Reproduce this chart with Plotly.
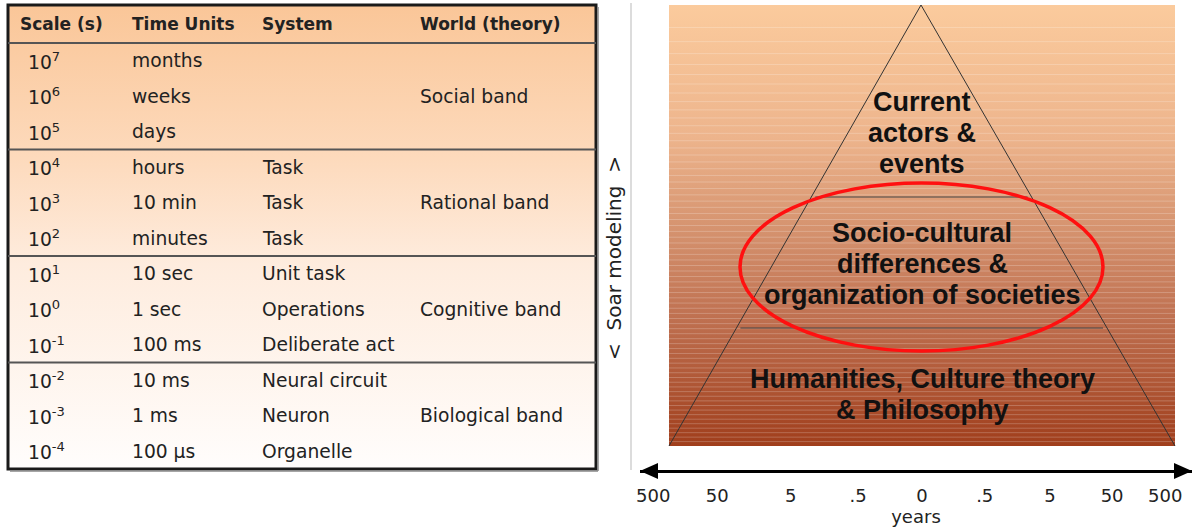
import plotly.graph_objects as go

W, H = 1192, 527

# ---- table data ----
headers = ["Scale (s)", "Time Units", "System", "World (theory)"]
scale_exp = [7, 6, 5, 4, 3, 2, 1, 0, -1, -2, -3, -4]
time_units = ["months", "weeks", "days", "hours", "10 min", "minutes",
              "10 sec", "1 sec", "100 ms", "10 ms", "1 ms", "100 µs"]
systems = ["", "", "", "Task", "Task", "Task", "Unit task", "Operations",
           "Deliberate act", "Neural circuit", "Neuron", "Organelle"]
bands = ["Social band", "Rational band", "Cognitive band", "Biological band"]

# ---- pyramid data ----
levels = [["Current", "actors &", "events"],
          ["Socio-cultural", "differences &", "organization of societies"],
          ["Humanities, Culture theory", "& Philosophy"]]
level_text_y = [133, 264, 394]
level_dividers_y = [197, 328]

# ---- time axis ----
year_ticks = ["500", "50", "5", ".5", "0", ".5", "5", "50", "500"]
year_tick_pos = [-4.2, -3.2, -2.05, -1, 0, 0.98, 2, 2.97, 3.8]

# geometry (pixel coordinates, y downwards)
TBL_L, TBL_R, TBL_T = 8, 596, 5
HEAD_B = 43
ROW_H = 35.5
TBL_B = HEAD_B + ROW_H * len(scale_exp)
col_x = [26, 130, 260, 418]

PAN_L, PAN_R, PAN_T, PAN_B = 669, 1175, 5, 446
APEX_X = 921
ARROW_Y, ARROW_L, ARROW_R = 471, 640, 1192
PX_PER_UNIT = 64
ZERO_X = 922
LINE_GAP = 31

TXT = "#222222"
TFONT = "DejaVu Sans"
PFONT = "Liberation Sans"

fig = go.Figure()

# table background gradient
fig.add_trace(go.Scatter(
    x=[TBL_L, TBL_R, TBL_R, TBL_L, TBL_L],
    y=[TBL_T, TBL_T, TBL_B, TBL_B, TBL_T],
    mode="lines", fill="toself", line=dict(width=0),
    fillgradient=dict(type="vertical", start=TBL_T, stop=TBL_B,
                      colorscale=[[0, "rgb(250,198,152)"],
                                  [0.33, "rgb(253,218,188)"],
                                  [0.56, "rgb(254,236,222)"],
                                  [1, "rgb(255,253,252)"]]),
    hoverinfo="skip", showlegend=False))

# pyramid panel background gradient
fig.add_trace(go.Scatter(
    x=[PAN_L, PAN_R, PAN_R, PAN_L, PAN_L],
    y=[PAN_T, PAN_T, PAN_B, PAN_B, PAN_T],
    mode="lines", fill="toself", line=dict(width=0),
    fillgradient=dict(type="vertical", start=PAN_T, stop=PAN_B,
                      colorscale=[[0, "rgb(251,203,157)"],
                                  [0.3, "rgb(237,180,140)"],
                                  [0.5, "rgb(214,148,112)"],
                                  [0.7, "rgb(192,114,82)"],
                                  [0.85, "rgb(176,88,55)"],
                                  [1, "rgb(160,62,28)"]]),
    hoverinfo="skip", showlegend=False))

# faint banding stripes
sx, sy = [], []
n = 70
for k in range(1, n):
    yy = PAN_T + (PAN_B - PAN_T) * (k / n) ** 0.7
    sx += [PAN_L, PAN_R, None]
    sy += [yy, yy, None]
fig.add_trace(go.Scatter(x=sx, y=sy, mode="lines",
                         line=dict(color="rgba(255,255,255,0.22)", width=1),
                         hoverinfo="skip", showlegend=False))

# pyramid outline
fig.add_trace(go.Scatter(x=[PAN_L, APEX_X, PAN_R], y=[PAN_B, PAN_T, PAN_B],
                         mode="lines", line=dict(color="#333333", width=1),
                         hoverinfo="skip", showlegend=False))

# dividers between levels
for yy in level_dividers_y:
    t = (yy - PAN_T) / (PAN_B - PAN_T)
    xl = APEX_X - t * (APEX_X - PAN_L)
    xr = APEX_X + t * (PAN_R - APEX_X)
    fig.add_trace(go.Scatter(x=[xl + 4, xr - 4], y=[yy, yy], mode="lines",
                             line=dict(color="#444444", width=1.2),
                             hoverinfo="skip", showlegend=False))

# dummy trace for the time axis
fig.add_trace(go.Scatter(x=[0], y=[-100], xaxis="x2", yaxis="y",
                         mode="markers", marker=dict(opacity=0),
                         hoverinfo="skip", showlegend=False))

shapes = []
# table frame and separators
shapes.append(dict(type="rect", x0=TBL_L, x1=TBL_R, y0=TBL_T, y1=TBL_B,
                   line=dict(color="#1a1a1a", width=3)))
shapes.append(dict(type="line", x0=TBL_R + 2, x1=TBL_R + 2, y0=TBL_T + 2, y1=TBL_B + 2,
                   line=dict(color="#888888", width=1.5)))
shapes.append(dict(type="line", x0=TBL_L + 2, x1=TBL_R + 2, y0=TBL_B + 2, y1=TBL_B + 2,
                   line=dict(color="#888888", width=1.5)))
shapes.append(dict(type="line", x0=TBL_L, x1=TBL_R, y0=HEAD_B, y1=HEAD_B,
                   line=dict(color="#555555", width=2)))
for g in range(1, len(bands)):
    yy = HEAD_B + ROW_H * 3 * g
    shapes.append(dict(type="line", x0=TBL_L, x1=TBL_R, y0=yy, y1=yy,
                       line=dict(color="#555555", width=2)))

# thin grey divider
shapes.append(dict(type="line", x0=631, x1=631, y0=3, y1=470,
                   line=dict(color="#d0d0d0", width=1.5)))

# red ellipse
shapes.append(dict(type="circle", x0=740, x1=1103, y0=183, y1=351,
                   line=dict(color="#ff1010", width=3.5)))

# arrow heads
shapes.append(dict(type="path",
                   path=f"M {ARROW_L},{ARROW_Y} L {ARROW_L + 18},{ARROW_Y - 8} L {ARROW_L + 18},{ARROW_Y + 8} Z",
                   fillcolor="black", line=dict(width=0)))
shapes.append(dict(type="path",
                   path=f"M {ARROW_R},{ARROW_Y} L {ARROW_R - 18},{ARROW_Y - 8} L {ARROW_R - 18},{ARROW_Y + 8} Z",
                   fillcolor="black", line=dict(width=0)))

for s in shapes:
    s.setdefault("xref", "x")
    s.setdefault("yref", "y")
    s.setdefault("layer", "above")

annotations = []


def label(x, y, text, size=18.7, xanchor="left", font=TFONT, color=TXT, **kw):
    annotations.append(dict(x=x, y=y, text=text, xref="x", yref="y",
                            xanchor=xanchor, yanchor="middle", showarrow=False,
                            font=dict(family=font, size=size, color=color), **kw))


# header
head_y = (TBL_T + HEAD_B) / 2
for i, h in enumerate(headers):
    label(col_x[i] - (8 if i == 0 else 0), head_y, f"<b>{h}</b>", size=17)

# rows
for i in range(len(scale_exp)):
    yc = HEAD_B + ROW_H * (i + 0.5)
    label(col_x[0], yc, f"10<sup>{scale_exp[i]}</sup>")
    label(col_x[1], yc, time_units[i])
    if systems[i]:
        label(col_x[2], yc, systems[i])
for g, b in enumerate(bands):
    yc = HEAD_B + ROW_H * (3 * g + 1.5)
    label(col_x[3], yc, b)

# vertical caption
label(614, 258, "<  Soar modeling  >", size=20, xanchor="center", textangle=-90)

# pyramid labels, one annotation per line
for lines, yc in zip(levels, level_text_y):
    y0 = yc - LINE_GAP * (len(lines) - 1) / 2
    for j, ln in enumerate(lines):
        label(ZERO_X, y0 + j * LINE_GAP, f"<b>{ln}</b>", size=27, xanchor="center",
              font=PFONT, color="#111111")

fig.update_layout(
    width=W, height=H,
    margin=dict(l=0, r=0, t=0, b=0, autoexpand=False),
    paper_bgcolor="white", plot_bgcolor="rgba(0,0,0,0)",
    xaxis=dict(range=[0, W], visible=False, fixedrange=True, domain=[0, 1]),
    yaxis=dict(range=[H, 0], visible=False, fixedrange=True, domain=[0, 1]),
    xaxis2=dict(domain=[ARROW_L / W, ARROW_R / W], anchor="free",
                position=1 - ARROW_Y / H, automargin=False,
                range=[(ARROW_L - ZERO_X) / PX_PER_UNIT, (ARROW_R - ZERO_X) / PX_PER_UNIT],
                tickvals=year_tick_pos, ticktext=year_ticks,
                ticks="outside", ticklen=7, tickcolor="rgba(0,0,0,0)",
                showline=True, linecolor="black", linewidth=3,
                showgrid=False, zeroline=False, fixedrange=True,
                tickfont=dict(family=TFONT, size=18, color=TXT),
                title=dict(text="years", standoff=0,
                           font=dict(family=TFONT, size=18, color=TXT))),
    shapes=shapes,
    annotations=annotations,
    showlegend=False,
)

fig.write_html("out.html", config={"displayModeBar": False},
               post_script="document.body.style.margin='0';")
